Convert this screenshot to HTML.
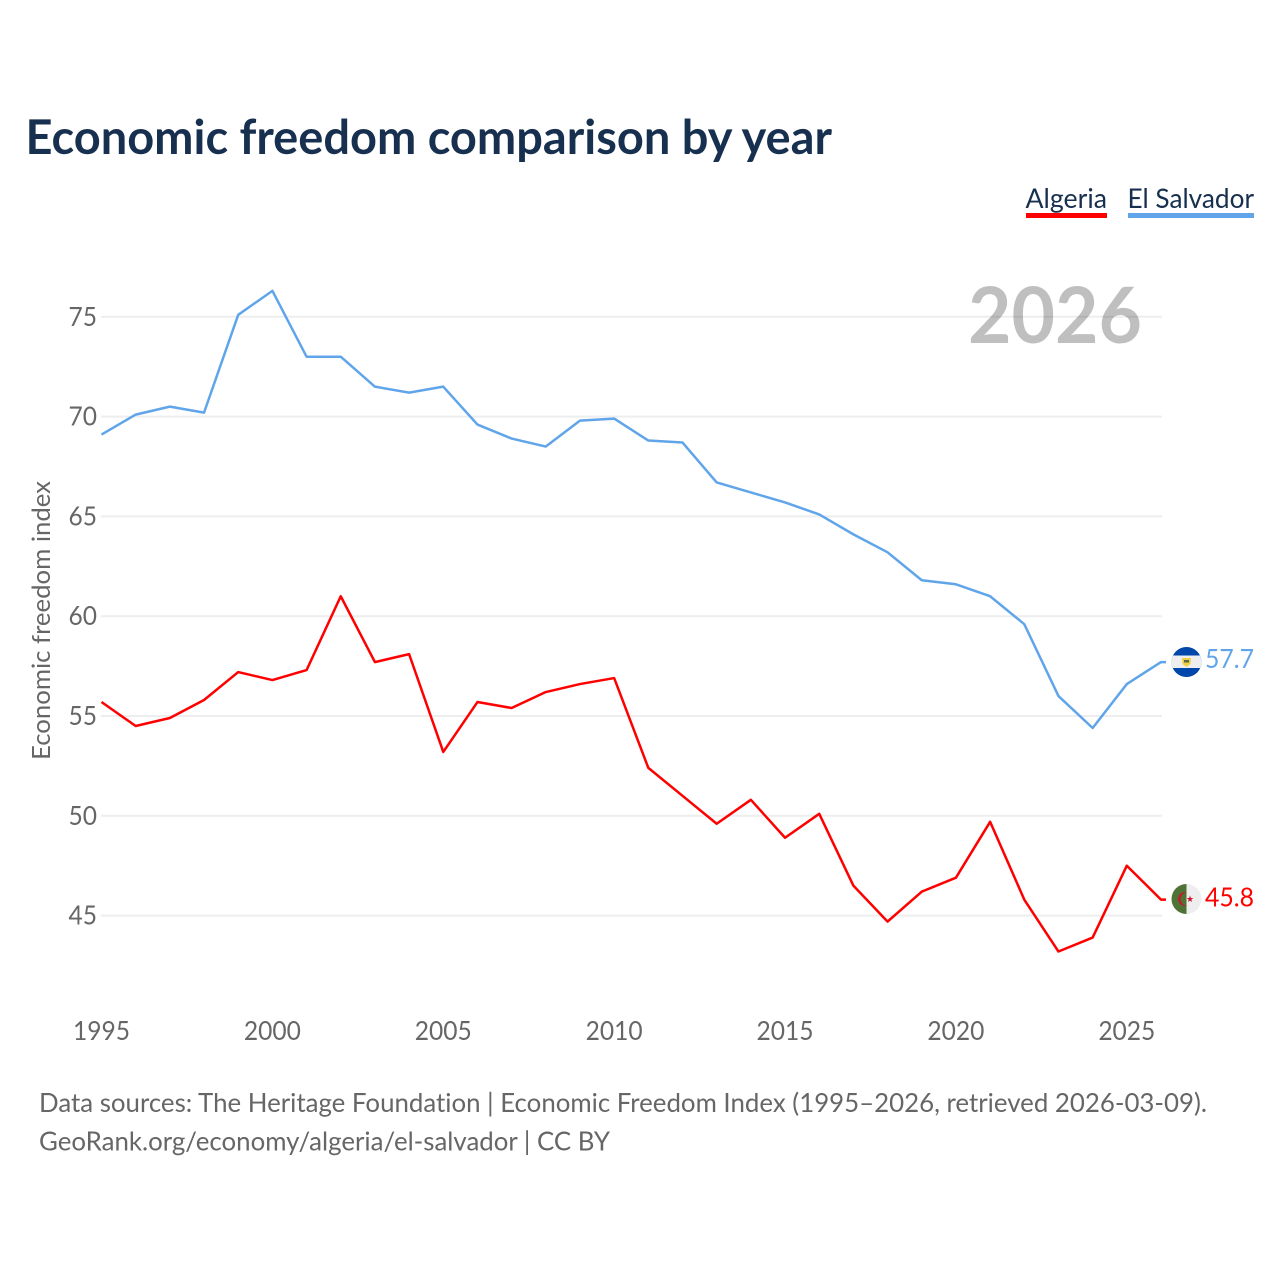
<!DOCTYPE html>
<html lang="en">
<head>
<meta charset="utf-8">
<title>Economic freedom comparison by year</title>
<style>
html,body{margin:0;padding:0;background:#fff;width:1280px;height:1280px;overflow:hidden}
svg{display:block}
text{font-family:"Lato","Carlito","Liberation Sans",sans-serif;font-variant-ligatures:none}
</style>
</head>
<body>
<svg id="chart" xmlns="http://www.w3.org/2000/svg" width="1280" height="1280" viewBox="0 0 1280 1280">
  <rect width="1280" height="1280" fill="#fff"/>
  <text x="25.5" y="154" font-size="48" font-weight="700" fill="#18304f" textLength="806.5" lengthAdjust="spacingAndGlyphs">Economic freedom comparison by year</text>

  <g>
    <g>
      <text x="1025.5" y="208" font-size="27" fill="#18304f" textLength="81.5" lengthAdjust="spacingAndGlyphs">Algeria</text>
      <rect x="1026" y="213" width="81" height="5" fill="#ff0000"/>
    </g>
    <g>
      <text x="1127.5" y="208" font-size="27" fill="#18304f" textLength="126.5" lengthAdjust="spacingAndGlyphs">El Salvador</text>
      <rect x="1128" y="213" width="126" height="5" fill="#60a5ea"/>
    </g>
  </g>

  <g id="grid"></g>
  <text x="968" y="343" font-size="78" font-weight="700" fill="#000" fill-opacity="0.25" textLength="174" lengthAdjust="spacingAndGlyphs">2026</text>
  <g id="yticks"></g>
  <g id="xticks"></g>
  <text transform="translate(50,760) rotate(-90)" font-size="25" fill="#666" textLength="279" lengthAdjust="spacingAndGlyphs">Economic freedom index</text>
  <g id="series"></g>

  <g id="flag-el-salvador">
    <clipPath id="clip-sv"><circle cx="1186.5" cy="662" r="15"/></clipPath>
    <g clip-path="url(#clip-sv)">
      <rect x="1171" y="647" width="31" height="30" fill="#0047ab"/>
      <rect x="1171" y="655.5" width="31" height="12.5" fill="#eeeeee"/>
    </g>
    <path d="M1182 658 L1191 658 L1190.5 664 L1186.5 667 L1182.5 664 Z" fill="#f0d040"/>
    <rect x="1184" y="660" width="5" height="2.5" fill="#5a6a50"/>
  </g>
  <g id="flag-algeria">
    <clipPath id="clip-dz"><circle cx="1186.5" cy="899" r="15"/></clipPath>
    <g clip-path="url(#clip-dz)">
      <rect x="1171" y="884" width="15.5" height="30" fill="#4f7335"/>
      <rect x="1186.5" y="884" width="15.5" height="30" fill="#eeeeee"/>
    </g>
    <path d="M1187 892.5 A6.8 6.8 0 1 0 1187 905.5 A6 6 0 1 1 1187 892.5 Z" fill="#d2102e"/>
    <path d="M1190 895.5 L1190.8 898 L1193.3 898 L1191.3 899.6 L1192.1 902 L1190 900.6 L1187.9 902 L1188.7 899.6 L1186.7 898 L1189.2 898 Z" fill="#d2102e"/>
  </g>
  <g id="end-labels"></g>

  <text x="39" y="1112" font-size="26.5" fill="#666" textLength="1168" lengthAdjust="spacingAndGlyphs">Data sources: The Heritage Foundation | Economic Freedom Index (1995–2026, retrieved 2026-03-09).</text>
  <text x="39" y="1150.5" font-size="26.5" fill="#666" textLength="571" lengthAdjust="spacingAndGlyphs">GeoRank.org/economy/algeria/el-salvador | CC BY</text>
</svg>
<script>
const years = [1995,1996,1997,1998,1999,2000,2001,2002,2003,2004,2005,2006,2007,2008,2009,2010,2011,2012,2013,2014,2015,2016,2017,2018,2019,2020,2021,2022,2023,2024,2025,2026];
const algeria = [55.7,54.5,54.9,55.8,57.2,56.8,57.3,61.0,57.7,58.1,53.2,55.7,55.4,56.2,56.6,56.9,52.4,51.0,49.6,50.8,48.9,50.1,46.5,44.7,46.2,46.9,49.7,45.8,43.2,43.9,47.5,45.8];
const elSalvador = [69.1,70.1,70.5,70.2,75.1,76.3,73.0,73.0,71.5,71.2,71.5,69.6,68.9,68.5,69.8,69.9,68.8,68.7,66.7,66.2,65.7,65.1,64.1,63.2,61.8,61.6,61.0,59.6,56.0,54.4,56.6,57.7];
const yTickValues = [45,50,55,60,65,70,75];
const xTickValues = [1995,2000,2005,2010,2015,2020,2025];

const NS = 'http://www.w3.org/2000/svg';
function xScale(year){ return 101.5 + (year - 1995) * (1161 - 101.5) / 31; }
function yScale(v){ return 915.6 - (v - 45) * (915.6 - 316.8) / 30; }
function make(tag, attrs, parent, txt){
  const el = document.createElementNS(NS, tag);
  for (const k in attrs) el.setAttribute(k, attrs[k]);
  if (txt !== undefined) el.textContent = txt;
  parent.appendChild(el);
  return el;
}
const grid = document.getElementById('grid');
const yticks = document.getElementById('yticks');
const xticks = document.getElementById('xticks');
const seriesG = document.getElementById('series');
const endG = document.getElementById('end-labels');

yTickValues.forEach(function(v){
  const line = make('line', {x1:101, x2:1162, y1:yScale(v), y2:yScale(v), stroke:'#eeeeee', 'stroke-width':2}, grid);
  
  
  const label = make('text', {x:97, y:yScale(v)+9, 'text-anchor':'end', 'font-size':26, fill:'#666', textLength:28.5, lengthAdjust:'spacingAndGlyphs'}, yticks, String(v));
  
  
});
xTickValues.forEach(function(y){
  const label = make('text', {x:xScale(y), y:1040, 'text-anchor':'middle', 'font-size':26, fill:'#666', textLength:57, lengthAdjust:'spacingAndGlyphs'}, xticks, String(y));
  
  
});
function pathFor(vals){
  const last = vals[vals.length-1];
  return vals.map(function(v,i){ return (i ? 'L' : 'M') + xScale(years[i]).toFixed(2) + ' ' + yScale(v).toFixed(2); }).join(' ') + ' L1166 ' + yScale(last).toFixed(2);
}
const lineDz = make('path', {d:pathFor(algeria), fill:'none', stroke:'#ff0000', 'stroke-width':2.5, 'stroke-linejoin':'round'}, seriesG);


const lineSv = make('path', {d:pathFor(elSalvador), fill:'none', stroke:'#60a5ea', 'stroke-width':2.5, 'stroke-linejoin':'round'}, seriesG);



const lastDz = algeria[algeria.length-1];
const lastSv = elSalvador[elSalvador.length-1];
const labelDz = make('text', {x:1205, y:yScale(lastDz)+7, 'font-size':26, fill:'#ff0000', textLength:49, lengthAdjust:'spacingAndGlyphs'}, endG, lastDz.toFixed(1));


const labelSv = make('text', {x:1205, y:yScale(lastSv)+6, 'font-size':26, fill:'#60a5ea', textLength:49, lengthAdjust:'spacingAndGlyphs'}, endG, lastSv.toFixed(1));


</script>
</body>
</html>
